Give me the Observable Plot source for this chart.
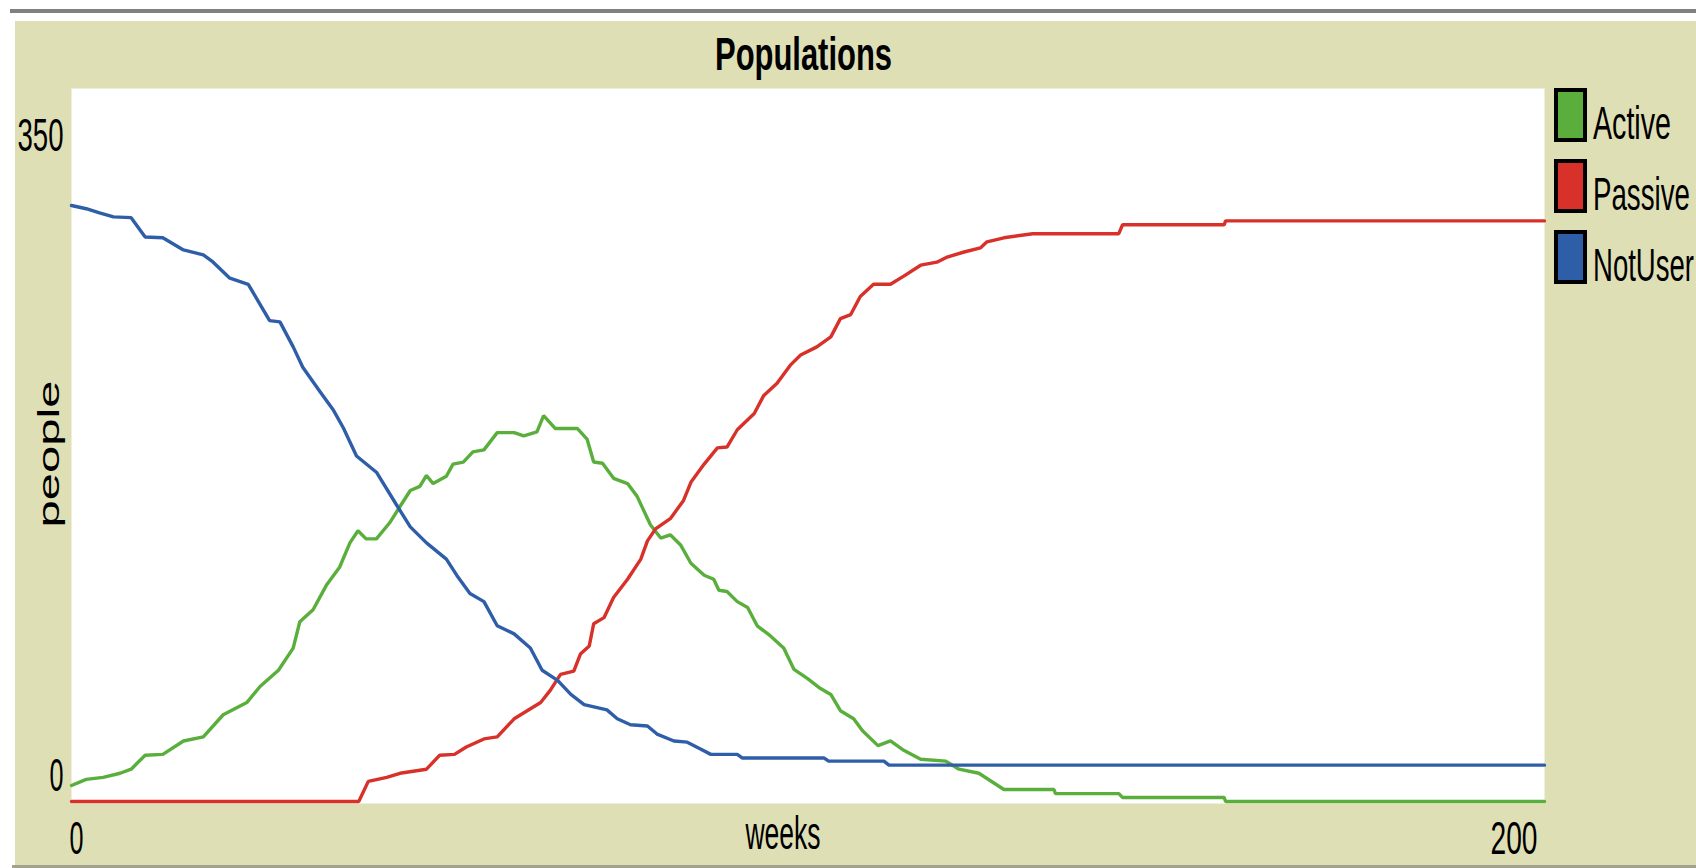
<!DOCTYPE html>
<html><head><meta charset="utf-8">
<script src="https://cdn.jsdelivr.net/npm/d3@7"></script>
<script src="https://cdn.jsdelivr.net/npm/@observablehq/plot@0.6"></script>
<style>
html,body{margin:0;padding:0;background:#fff;overflow:hidden;}
#page{position:relative;width:1696px;height:868px;overflow:hidden;}
#topline{position:absolute;left:10px;top:9px;width:1686px;height:4px;background:#808080;}
#panel{position:absolute;left:15px;top:21px;width:1681px;height:844px;background:#dfdfb6;}
#bottomline{position:absolute;left:12px;top:865px;width:1684px;height:3px;background:#a2a28e;}
#chart{position:absolute;left:15px;top:21px;}
#overlay{position:absolute;left:0;top:0;}
</style></head><body>
<div id="page">
  <div id="topline"></div>
  <div id="panel"></div>
  <div id="bottomline"></div>
  <div id="chart"></div>
  <svg id="overlay" width="1696" height="868"></svg>
</div>
<script>
// ---- data ----
const plotTitle = "Populations";
const xLabel = "weeks";
const yLabel = "people";
const seriesNames = ["Active", "Passive", "NotUser"];
const seriesColors = ["#5aaf3c", "#d8312a", "#2f5ea9"];
const xTicks = [0, 200];
const yTicks = [0, 350];

const activeWeek = [0, 2, 4.3, 6.6, 8.1, 10, 12.4, 15.2, 17.9, 20.6, 23.8, 25.6, 28.1, 30.1, 31, 32.8, 34.6, 36.4, 37.8, 38.9, 40, 41.4, 43.2, 44.6, 46, 47.3, 48.2, 49.1, 50.9, 51.8, 53.2, 54.5, 56, 57.8, 60.1, 61.4, 63.2, 64.1, 65.7, 68.7, 70, 70.9, 72.1, 73.6, 75.5, 76.8, 78.6, 80, 81.3, 82.7, 84.1, 85.9, 87.2, 87.9, 89, 90.4, 91.8, 93.1, 94.9, 96.7, 98.1, 99.9, 101.7, 103.1, 104.4, 106.2, 107.4, 109.5, 111.2, 113, 115.3, 118.7, 120.5, 123.2, 126.6, 133.4, 133.6, 142.2, 142.7, 156.5, 156.7, 200];
const activeCount = [7.9, 10.9, 11.9, 13.9, 15.9, 22.8, 23.2, 29.8, 31.8, 42.7, 48.7, 56.6, 64.6, 75.5, 88.5, 94.4, 106.4, 115.3, 127.3, 133.3, 129.3, 129.3, 137.2, 145.2, 153.1, 155.1, 160.5, 156.5, 160.1, 166.1, 167.1, 172.1, 173.1, 181.6, 181.6, 180, 182, 190, 183.6, 183.6, 178.4, 167.1, 166.5, 159.1, 156.5, 150.2, 136.2, 129.7, 131.3, 126.3, 117.3, 111.4, 109.4, 104, 103.4, 98.4, 95.5, 86.5, 81.5, 75.6, 65, 60.6, 55.6, 52.7, 44.7, 40.7, 34.8, 27.5, 29.8, 25.2, 20.8, 19.9, 15.9, 13.9, 5.9, 5.9, 3.9, 3.9, 2, 2, 0, 0];

const passiveWeek = [0, 39, 40.3, 42.8, 44.6, 46.4, 48.2, 50, 52, 53.6, 56, 57.8, 60.1, 63.7, 65, 66.4, 68.2, 69.1, 70.3, 70.9, 72.3, 73.6, 75.5, 77.3, 78.2, 79.3, 81.3, 83.1, 84.1, 85.9, 87.7, 89, 90.4, 92.7, 94, 95.8, 97.6, 99, 101.2, 103.1, 104.4, 105.8, 107.1, 108.9, 111.2, 113, 115.3, 117.5, 118.9, 121.2, 123.4, 124.3, 126.6, 130.5, 142.2, 142.7, 156.5, 156.7, 200];
const passiveCount = [0, 0, 9.9, 11.9, 13.9, 14.9, 15.9, 22.8, 23.2, 26.8, 30.8, 31.8, 40.7, 48.7, 54.7, 62.6, 64.2, 72.6, 76.6, 87.5, 90.5, 100.4, 109.4, 119.3, 128.3, 134.2, 139.2, 148.2, 157.1, 166.1, 174.1, 174.5, 183, 191, 199.9, 205.9, 214.8, 219.8, 223.8, 228.7, 237.7, 239.7, 248.6, 254.6, 254.6, 258.6, 264, 265.5, 268, 270.5, 272.5, 275.5, 277.5, 279.5, 279.5, 283.9, 283.9, 285.8, 285.8];

const notUserWeek = [0, 2, 3.8, 5.7, 8.1, 10, 12.4, 15.2, 17.9, 19.2, 21.5, 24, 26.9, 28.3, 30.1, 31.4, 33.7, 35.5, 36.9, 38.7, 41.4, 44.1, 46, 48.2, 50.9, 52.3, 54.1, 56, 57.8, 60.1, 62.3, 63.9, 66, 67.8, 69.6, 72.7, 74.1, 75.9, 78.2, 79.5, 81.8, 83.6, 85.4, 86.8, 90.4, 91.1, 102.2, 102.8, 110.3, 111, 200];
const notUserCount = [293.4, 291.8, 289.8, 287.8, 287.4, 277.9, 277.5, 271.5, 269.1, 265.6, 257.6, 254.6, 236.7, 236.1, 223.8, 213.8, 202, 193, 184, 170.1, 162.1, 146.2, 135.2, 127.3, 119.3, 111.4, 102.4, 98.4, 86.5, 82.5, 75.6, 64.6, 59.6, 52.7, 47.7, 45.1, 40.7, 37.8, 37.2, 33.2, 29.8, 29.2, 25.8, 23.2, 23.2, 21.4, 21.4, 19.9, 19.9, 17.9, 17.9];

// ---- build table ----
const table = [];
[[activeWeek, activeCount], [passiveWeek, passiveCount], [notUserWeek, notUserCount]].forEach(([w, c], i) => {
  w.forEach((wk, j) => table.push({series: seriesNames[i], week: wk, count: c[j]}));
});

const FONT = "'Liberation Sans Narrow', 'Liberation Sans', Arial, sans-serif";

const chart = Plot.plot({
  width: 1681,
  height: 844,
  marginLeft: 56,
  marginTop: 67,
  marginRight: 152,
  marginBottom: 62,
  style: {background: "transparent", fontFamily: FONT, color: "black", overflow: "visible"},
  x: {domain: [0, 200]},
  y: {domain: [0, 350], insetTop: 2, insetBottom: 2},
  color: {domain: seriesNames, range: seriesColors},
  marks: [
    Plot.frame({fill: "white", stroke: "none"}),
    Plot.line(table, {x: "week", y: "count", z: "series", stroke: "series", strokeWidth: 3.4, strokeLinejoin: "miter"}),
    Plot.axisY([yTicks[1]], {tickSize: 0, tickPadding: 8, dy: 60, lineAnchor: "bottom", fontSize: 47, label: null}),
    Plot.axisY([yTicks[0]], {tickSize: 0, tickPadding: 8, dy: -11, lineAnchor: "bottom", fontSize: 47, label: null}),
    Plot.axisX([xTicks[0]], {tickSize: 0, tickPadding: 0, dx: -2, dy: 50, textAnchor: "start", lineAnchor: "bottom", fontSize: 47, label: null}),
    Plot.axisX([xTicks[1]], {tickSize: 0, tickPadding: 0, dx: -7, dy: 50, textAnchor: "end", lineAnchor: "bottom", fontSize: 47, label: null}),
    Plot.text([xLabel], {text: d => d, frameAnchor: "bottom", dx: -25, dy: 45, lineAnchor: "bottom", fontSize: 46}),
    Plot.text([yLabel], {text: d => d, frameAnchor: "left", rotate: -90, dx: -13, dy: 8, lineAnchor: "bottom", textAnchor: "middle", fontSize: 30})
  ]
});
document.getElementById("chart").appendChild(chart);

// squeeze texts to the narrow widths of the reference font
const textWidths = {"350": 46, "0": 14, "200": 47, "weeks": 75, "people": 147};
d3.select(chart).selectAll("text").each(function() {
  const t = this.textContent.trim();
  if (textWidths[t] != null) {
    d3.select(this).attr("textLength", textWidths[t]).attr("lengthAdjust", "spacingAndGlyphs");
  }
});

// ---- title and legend ----
const ov = d3.select("#overlay").style("font-family", FONT);
ov.append("text").attr("x", 803.5).attr("y", 70).attr("text-anchor", "middle")
  .attr("font-size", 46).attr("font-weight", "bold").attr("fill", "black")
  .attr("textLength", 177).attr("lengthAdjust", "spacingAndGlyphs").text(plotTitle);

const legendBoxTop = [88, 159, 230];
const legendTextWidth = [78, 97, 101];
seriesNames.forEach((name, i) => {
  ov.append("rect").attr("x", 1556).attr("y", legendBoxTop[i] + 2).attr("width", 29).attr("height", 50)
    .attr("fill", seriesColors[i]).attr("stroke", "black").attr("stroke-width", 4);
  const t = ov.append("text").attr("x", 0).attr("y", 0).attr("font-size", 47).attr("fill", "black").text(name);
  const natural = t.node().getComputedTextLength() || 1;
  const sx = legendTextWidth[i] / natural;
  t.attr("transform", `translate(1593,${legendBoxTop[i] + 51}) scale(${sx},1)`);
});
</script>
</body></html>
